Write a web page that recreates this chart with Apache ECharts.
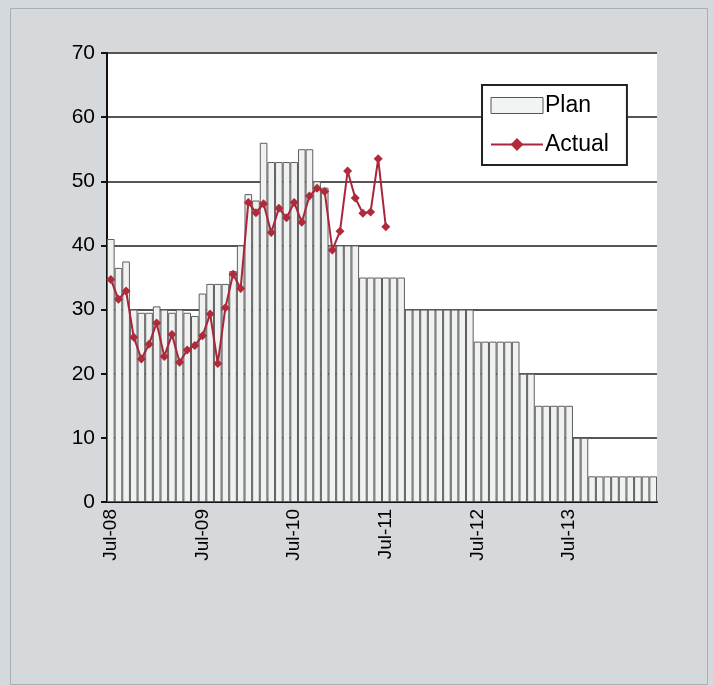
<!DOCTYPE html>
<html>
<head>
<meta charset="utf-8">
<script src="https://cdn.jsdelivr.net/npm/echarts@6/dist/echarts.min.js"></script>
<style>
    html, body { margin: 0; padding: 0; background: #d5d9dc; }
    #chart { width: 713px; height: 686px; }
</style>
</head>
<body>
<div id="chart"></div>
<script>
// months Jul-08 .. Jun-14
var months = ['Jan', 'Feb', 'Mar', 'Apr', 'May', 'Jun', 'Jul', 'Aug', 'Sep', 'Oct', 'Nov', 'Dec']
var categories = []
for (var i = 0; i < 72; i++) {
    var m = (6 + i) % 12
    var y = 8 + Math.floor((6 + i) / 12)
    categories.push(months[m] + '-' + (y < 10 ? '0' + y : y))
}

var planData = [
    41, 36.5, 37.5, 30, 29.5, 29.5, 30.5, 30, 29.5, 30, 29.5, 29,
    32.5, 34, 34, 34, 36, 40, 48, 47, 56, 53, 53, 53,
    53, 55, 55, 50, 49, 40, 40, 40, 40, 35, 35, 35,
    35, 35, 35, 30, 30, 30, 30, 30, 30, 30, 30, 30,
    25, 25, 25, 25, 25, 25, 20, 20, 15, 15, 15, 15,
    15, 10, 10, 4, 4, 4, 4, 4, 4, 4, 4, 4
]

var actualData = [
    34.7, 31.6, 32.9, 25.7, 22.3, 24.6, 27.9, 22.7, 26.1, 21.8, 23.7, 24.4,
    25.9, 29.3, 21.6, 30.3, 35.5, 33.3, 46.7, 45.1, 46.5, 42, 45.8, 44.3,
    46.7, 43.6, 47.7, 48.9, 48.4, 39.3, 42.2, 51.6, 47.4, 45, 45.2, 53.5,
    42.9
]

var yTicks = [0, 10, 20, 30, 40, 50, 60, 70]

var chart = echarts.init(document.getElementById('chart'))
chart.setOption({
    backgroundColor: '#d5d9dc',
    textStyle: { fontFamily: 'Liberation Sans, Arial, sans-serif' },
    animation: false,
    graphic: [{
        type: 'rect',
        left: 8, top: 6,
        shape: { width: 697, height: 676 },
        style: { fill: 'none', stroke: '#a9aeb2', lineWidth: 1 }
    }],
    grid: {
        left: 107,
        right: 56,
        top: 53,
        bottom: 184,
        show: true,
        backgroundColor: '#ffffff',
        borderWidth: 0
    },
    legend: {
        orient: 'vertical',
        left: 482,
        top: 85,
        padding: [9, 18, 9, 8],
        itemGap: 16,
        itemWidth: 52,
        itemHeight: 16,
        backgroundColor: '#ffffff',
        borderColor: '#222',
        borderWidth: 2,
        textStyle: { fontSize: 23, color: '#000', padding: [0, 0, 0, -3] },
        data: [
            { name: 'Plan', icon: 'rect', itemStyle: { color: '#f2f4f4', borderColor: '#555', borderWidth: 1 } },
            { name: 'Actual' }
        ]
    },
    xAxis: {
        type: 'category',
        data: categories,
        axisLine: { lineStyle: { color: '#111', width: 2 } },
        axisTick: { show: false },
        axisLabel: {
            rotate: 90,
            interval: 11,
            margin: 7,
            fontSize: 19,
            color: '#000'
        }
    },
    yAxis: {
        type: 'value',
        min: 0,
        max: 70,
        interval: 10,
        axisLine: { show: true, lineStyle: { color: '#111', width: 2 } },
        axisTick: { show: true, length: 6, lineStyle: { color: '#111', width: 2 } },
        axisLabel: {
            fontSize: 21,
            color: '#000',
            margin: 12,
            formatter: function (v) { return yTicks.indexOf(v) >= 0 ? v : '' }
        },
        splitLine: { lineStyle: { color: '#555', width: 2 } }
    },
    series: [{
        name: 'Plan',
        type: 'bar',
        data: planData,
        barCategoryGap: '0%',
        itemStyle: { color: '#f0f2f2', borderColor: '#5e5e5e', borderWidth: 1 }
    }, {
        name: 'Actual',
        type: 'line',
        data: actualData,
        symbol: 'diamond',
        symbolSize: 9,
        showAllSymbol: true,
        lineStyle: { color: '#a8263a', width: 2 },
        itemStyle: { color: '#b02a3a' }
    }]
})
</script>
</body>
</html>
